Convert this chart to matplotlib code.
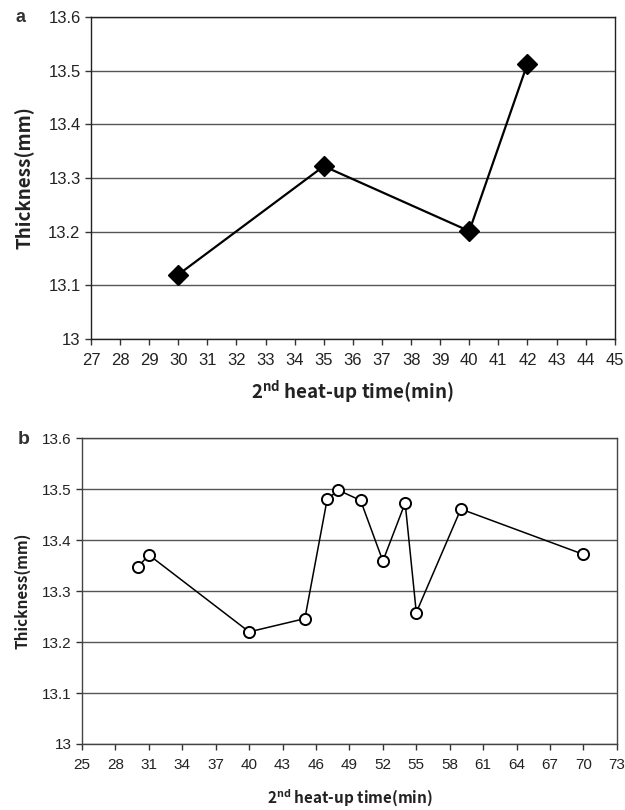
import matplotlib
matplotlib.use('Agg')
import matplotlib.pyplot as plt
import numpy as np

plt.rcParams['font.family'] = ['Liberation Sans', 'DejaVu Sans']
plt.rcParams['mathtext.fontset'] = 'custom'
plt.rcParams['mathtext.bf'] = 'Noto Sans CJK KR:bold'
plt.rcParams['mathtext.rm'] = 'Noto Sans CJK KR:bold'

# panel a data
time_a = [30, 35, 40, 42]
thick_a = [13.12, 13.322, 13.201, 13.513]
xticks_a = list(range(27, 46))

# panel b data
time_b = [30, 31, 40, 45, 47, 48, 50, 52, 54, 55, 59, 70]
thick_b = [13.347, 13.371, 13.220, 13.246, 13.480, 13.498, 13.478,
           13.359, 13.473, 13.258, 13.461, 13.372]
xticks_b = list(range(25, 74, 3))

yticks = [13.0, 13.1, 13.2, 13.3, 13.4, 13.5, 13.6]
ytick_labels = ['13', '13.1', '13.2', '13.3', '13.4', '13.5', '13.6']

label_font = 'Noto Sans CJK KR'
xlabel = r'2$^{\mathbf{nd}}$ heat-up time(min)'

fig = plt.figure(figsize=(6.25, 8.1), dpi=100)
ax_a = fig.add_axes([0.1456, 0.5815, 0.838, 0.3975])
ax_b = fig.add_axes([0.1312, 0.0815, 0.8558, 0.3775])


def style_axes(ax, xticks, fs, spine_col, lab_fs):
    ax.set_yticks(yticks)
    ax.set_yticklabels(ytick_labels)
    ax.set_ylim(13.0, 13.6)
    ax.set_xticks(xticks)
    ax.set_xlim(xticks[0], xticks[-1])
    ax.grid(axis='y', color='#555555', linewidth=1.0)
    ax.set_axisbelow(True)
    for s in ax.spines.values():
        s.set_color(spine_col)
        s.set_linewidth(1.0)
    ax.tick_params(axis='both', direction='out', length=4, width=1,
                   color='#333333', labelsize=fs, labelcolor='#222222')
    ax.tick_params(axis='x', pad=6)
    ax.set_ylabel('Thickness(mm)', family=label_font, fontweight='bold',
                  fontsize=lab_fs, color='#222222')


style_axes(ax_a, xticks_a, 12, '#222222', 13.5)
ax_a.plot(time_a, thick_a, color='black', linewidth=1.6, marker='D',
          markersize=10, markerfacecolor='black', markeredgecolor='black')
ax_a.set_xlabel(xlabel, family=label_font, fontweight='bold', fontsize=13.5,
                color='#222222', labelpad=8)
ax_a.yaxis.labelpad = 10

style_axes(ax_b, xticks_b, 11, '#444444', 11)
ax_b.plot(time_b, thick_b, color='black', linewidth=1.1, marker='o',
          markersize=8, markerfacecolor='white', markeredgecolor='black',
          markeredgewidth=1.4)
ax_b.set_xlabel(xlabel, family=label_font, fontweight='bold', fontsize=11,
                color='#222222', labelpad=10)
ax_b.yaxis.labelpad = 8

fig.text(16 / 625, 1 - 17 / 810, 'a', fontsize=13, fontweight='bold',
         color='#333333', va='center', ha='left')
fig.text(18 / 625, 1 - 440 / 810, 'b', fontsize=14, fontweight='bold',
         color='#333333', va='center', ha='left')

fig.savefig('out.png', dpi=100)
